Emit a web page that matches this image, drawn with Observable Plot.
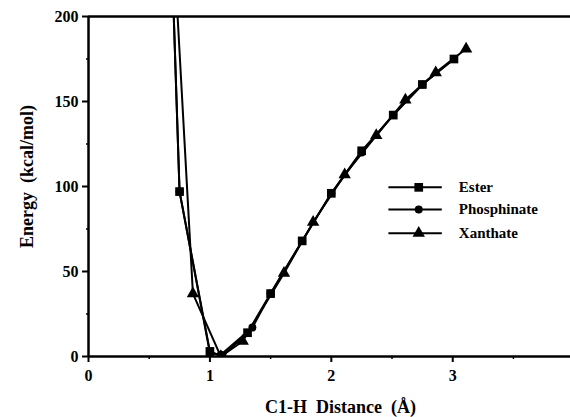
<!DOCTYPE html>
<html><head><meta charset="utf-8">
<script src="https://cdn.jsdelivr.net/npm/d3@7"></script>
<script src="https://cdn.jsdelivr.net/npm/@observablehq/plot@0.6"></script>
<style>
body{margin:0;background:#fff;}
svg, svg text{font-family:"Liberation Serif","DejaVu Serif","Times New Roman",serif !important;}
</style></head>
<body><div id="chart"></div>
<script>
// Series values: C1-H distance (Å) and energy (kcal/mol)
const esterX = [0.70, 0.75, 1.00, 1.10, 1.31, 1.50, 1.76, 2.00, 2.25, 2.51, 2.75, 3.01];
const esterE = [205, 97, 3, 0, 14, 37, 68, 96, 121, 142, 160, 175];
const phosX  = [0.70, 0.75, 1.00, 1.09, 1.35, 1.50, 1.76, 2.00, 2.25, 2.51, 2.75, 3.01];
const phosE  = [205, 97, 2, 1, 17, 37, 68, 96, 120, 142, 160, 175];
const xanX   = [0.73, 0.86, 1.09, 1.27, 1.61, 1.85, 2.11, 2.37, 2.61, 2.86, 3.11];
const xanE   = [205, 37, 0, 9, 49, 79, 107, 130, 151, 167, 181];

const seriesNames = ["Ester", "Phosphinate", "Xanthate"];
const seriesSymbols = ["square", "circle", "triangle"];
const seriesRadius = [4.9, 4.0, 4.6];
const yTicks = [0, 50, 100, 150, 200];
const yMinor = [25, 75, 125, 175];
const xTicks = [0, 1, 2, 3];
const xMinor = [0.5, 1.5, 2.5, 3.5];
const xLabel = "C1-H\u00a0\u00a0Distance\u00a0\u00a0(Å)";
const yLabel = "Energy\u00a0\u00a0(kcal/mol)";

const toRows = (xs, es, name, sym) => xs.map((x, i) => ({x, e: es[i], name, sym}));
const series = [
  toRows(esterX, esterE, seriesNames[0], seriesSymbols[0]),
  toRows(phosX, phosE, seriesNames[1], seriesSymbols[1]),
  toRows(xanX, xanE, seriesNames[2], seriesSymbols[2])
];
const dotOrder = [1, 2, 0];

// legend layout (in data units)
const legX0 = 2.47, legX1 = 2.91, legXm = 2.72, legXt = 3.05;
const legY = [99.5, 86.5, 72.5];
const legRows = seriesNames.map((n, i) => ({name: n, sym: seriesSymbols[i], y: legY[i], r: seriesRadius[i]}));
const FONT = "'Liberation Serif', 'DejaVu Serif', serif";

const chart = Plot.plot({
  width: 570, height: 417,
  marginLeft: 88, marginRight: 0, marginTop: 16, marginBottom: 61,
  x: {domain: [0, 3.97]},
  y: {domain: [0, 200]},
  r: {type: "identity"},
  style: {fontFamily: FONT, color: "#000", background: "#fff"},
  marks: [
    Plot.axisY({ticks: yTicks, tickSize: 6, tickPadding: 4, tickFormat: d3.format("d"), label: null, fontSize: 16, fontWeight: "bold", fontFamily: FONT, strokeWidth: 2}),
    Plot.axisY({ticks: yMinor, tickSize: 2, text: null, label: null, strokeWidth: 1.5}),
    Plot.axisX({ticks: xTicks, tickSize: 6, tickPadding: 7, tickFormat: d3.format("d"), label: null, fontSize: 16, fontWeight: "bold", fontFamily: FONT, strokeWidth: 2}),
    Plot.axisX({ticks: xMinor, tickSize: 3, text: null, label: null, strokeWidth: 1.5}),
    Plot.ruleY([0], {stroke: "#000", strokeWidth: 2.5}),
    Plot.ruleY([200], {stroke: "#000", strokeWidth: 2.5}),
    Plot.ruleX([0], {stroke: "#000", strokeWidth: 2.5}),
    ...series.map(s => Plot.line(s, {x: "x", y: "e", stroke: "#000", strokeWidth: 2, clip: true})),
    ...dotOrder.map(i => Plot.dot(series[i], {x: "x", y: "e", symbol: "sym", fill: "#000", stroke: "none", r: seriesRadius[i], clip: true})),
    // legend
    Plot.link(legRows, {x1: () => legX0, x2: () => legX1, y1: "y", y2: "y", stroke: "#000", strokeWidth: 2}),
    Plot.dot(legRows, {x: () => legXm, y: "y", symbol: "sym", fill: "#000", r: "r"}),
    Plot.text(legRows, {x: () => legXt, y: "y", text: "name", textAnchor: "start", fontSize: 15, fontWeight: "bold", fontFamily: FONT, fill: "#000"}),
    // axis titles
    Plot.text([xLabel], {frameAnchor: "bottom", textAnchor: "middle", dx: 11, dy: 56, text: d => d, fontSize: 18, fontWeight: "bold", fontFamily: FONT, fill: "#000", letterSpacing: "0.3px"}),
    Plot.text([yLabel], {frameAnchor: "left", textAnchor: "middle", lineAnchor: "middle", dx: -61, dy: -10, rotate: -90, text: d => d, fontSize: 18, fontWeight: "bold", fontFamily: FONT, fill: "#000", letterSpacing: "0.5px"})
  ]
});
document.getElementById("chart").appendChild(chart);
</script>
</body></html>
